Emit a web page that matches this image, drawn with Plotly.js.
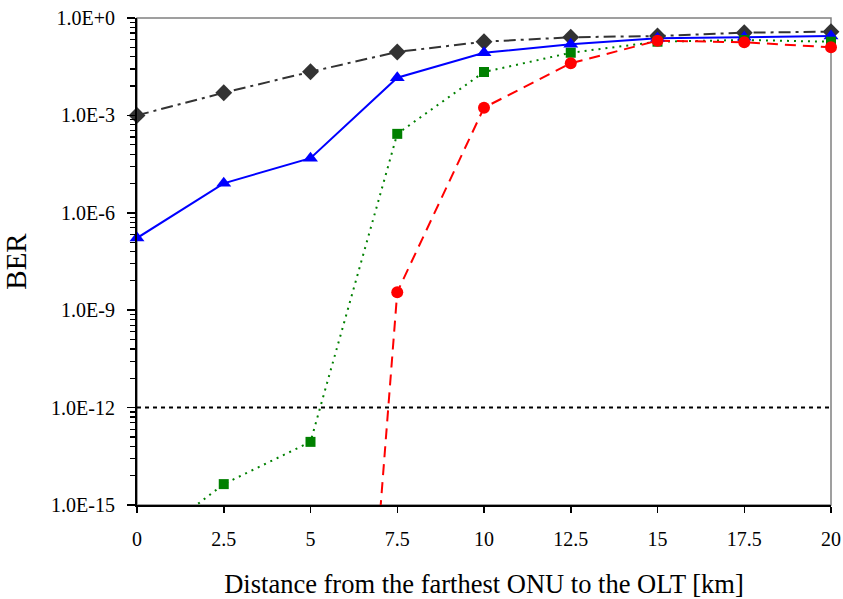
<!DOCTYPE html>
<html><head><meta charset="utf-8">
<script src="https://cdn.plot.ly/plotly-3.0.1.min.js"></script>
<style>body{margin:0;background:#fff}</style>
</head><body><div id="chart" style="width:843px;height:599px"></div>
<script>
// Data
const distance = [0, 2.5, 5, 7.5, 10, 12.5, 15, 17.5, 20];
const berBlack = [1.0e-3, 5.0e-3, 2.2e-2, 9.0e-2, 0.186, 0.255, 0.279, 0.352, 0.379];
const berBlue  = [1.67e-7, 8.1e-6, 4.8e-5, 1.45e-2, 8.5e-2, 0.155, 0.237, 0.255, 0.279];
const berGreen = [4e-17, 4.4e-15, 8.8e-14, 2.7e-4, 2.17e-2, 8.5e-2, 0.186, 0.21, 0.186];
const distanceRed = [5, 7.5, 10, 12.5, 15, 17.5, 20];
const berRed   = [1.5e-43, 3.6e-9, 1.73e-3, 4.03e-2, 0.20, 0.179, 0.125];
const fecLimit = 1e-12;
const fecX = [0, 20];
const xTickVals = [0, 2.5, 5, 7.5, 10, 12.5, 15, 17.5, 20];
const yTickVals = [1e0, 1e-3, 1e-6, 1e-9, 1e-12, 1e-15];
const yTickText = ["1.0E+0", "1.0E-3", "1.0E-6", "1.0E-9", "1.0E-12", "1.0E-15"];
const minorMultipliers = [8, 27, 64, 125, 216, 343, 512, 729];

const yMinor = [];
for (let n = 1; n <= 5; n++) {
  minorMultipliers.forEach(m => yMinor.push(m * Math.pow(10, -3 * n)));
}

const FONT = "'Liberation Serif', 'Times New Roman', serif";
const YMIN = 1e-15;

function visible(xs, ys) {
  const x = [], y = [];
  xs.forEach((v, i) => { if (ys[i] >= YMIN) { x.push(v); y.push(ys[i]); } });
  return {x, y};
}

const series = [
  {x: distance, y: berBlack, color: '#333333', dash: '12px,5px,3px,5px', symbol: 'diamond', size: 13},
  {x: distance, y: berBlue, color: '#0000FF', dash: 'solid', symbol: 'triangle-up', size: 13},
  {x: distance, y: berGreen, color: '#008000', dash: '2px,5px', symbol: 'square', size: 10},
  {x: distanceRed, y: berRed, color: '#FF0000', dash: '11px,7px', symbol: 'circle', size: 12}
];

const traces = [{
  x: fecX, y: [fecLimit, fecLimit], mode: 'lines',
  line: {color: '#000000', width: 2, dash: '4px,4px'}, hoverinfo: 'skip'
}];
series.forEach(s => {
  traces.push({x: s.x, y: s.y, mode: 'lines', line: {color: s.color, width: 2, dash: s.dash}});
});
series.forEach(s => {
  const v = visible(s.x, s.y);
  traces.push({x: v.x, y: v.y, mode: 'markers', cliponaxis: false,
    marker: {symbol: s.symbol, size: s.size, color: s.color, line: {width: 0}}});
});

const layout = {
  width: 843, height: 599,
  margin: {l: 137, r: 12, t: 18, b: 94},
  paper_bgcolor: '#ffffff', plot_bgcolor: '#ffffff',
  showlegend: false,
  font: {family: FONT, color: '#000000', size: 20},
  xaxis: {
    range: [0, 20], tickmode: 'array', tickvals: xTickVals, ticks: 'outside', ticklen: 6, tickwidth: 1.5,
    tickcolor: '#000000', showline: true, linecolor: '#000000', linewidth: 1.5,
    showgrid: false, zeroline: false, tickfont: {family: FONT, size: 20}, ticklabelstandoff: 9,
    title: {text: 'Distance from the farthest ONU to the OLT [km]', font: {family: FONT, size: 26.5}, standoff: 26}
  },
  yaxis: {
    type: 'log', range: [-15, 0], tickmode: 'array', tickvals: yTickVals, ticktext: yTickText,
    ticks: 'outside', ticklen: 8, tickwidth: 1.5, tickcolor: '#000000',
    showline: true, linecolor: '#000000', linewidth: 2, showgrid: false, zeroline: false,
    tickfont: {family: FONT, size: 20}, ticklabelstandoff: 8,
    minor: {tickmode: 'array', tickvals: yMinor, ticks: 'outside', ticklen: 5, tickwidth: 1.2,
      tickcolor: '#000000', showgrid: false},
    title: {text: 'BER', font: {family: FONT, size: 29}, standoff: 18}
  },
  shapes: [{type: 'rect', xref: 'paper', yref: 'paper', x0: 0, x1: 1, y0: 0, y1: 1,
    line: {color: '#808080', width: 1.5}, layer: 'below'}]
};

Plotly.newPlot('chart', traces, layout, {displayModeBar: false, staticPlot: true});
</script>
</body></html>
